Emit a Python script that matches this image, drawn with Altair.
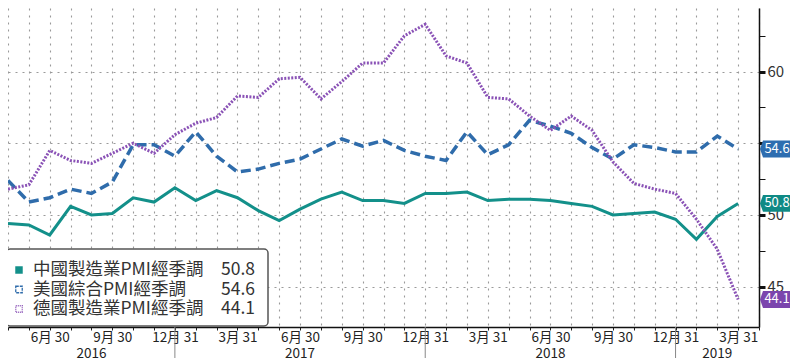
import altair as alt
import pandas as pd

FONT = "Noto Sans CJK TC"

# ---------------- data ----------------
months = [
    "2016-04", "2016-05", "2016-06", "2016-07", "2016-08", "2016-09", "2016-10", "2016-11", "2016-12",
    "2017-01", "2017-02", "2017-03", "2017-04", "2017-05", "2017-06", "2017-07", "2017-08", "2017-09",
    "2017-10", "2017-11", "2017-12",
    "2018-01", "2018-02", "2018-03", "2018-04", "2018-05", "2018-06", "2018-07", "2018-08", "2018-09",
    "2018-10", "2018-11", "2018-12",
    "2019-01", "2019-02", "2019-03",
]
china = [49.4, 49.3, 48.6, 50.6, 50.0, 50.1, 51.2, 50.9, 51.9,
         51.0, 51.7, 51.2, 50.3, 49.6, 50.4, 51.1, 51.6, 51.0, 51.0, 50.8, 51.5,
         51.5, 51.6, 51.0, 51.1, 51.1, 51.0, 50.8, 50.6, 50.0, 50.1, 50.2, 49.7,
         48.3, 49.9, 50.8]
us = [52.4, 50.9, 51.2, 51.8, 51.5, 52.3, 54.9, 54.9, 54.1,
      55.8, 54.1, 53.0, 53.2, 53.6, 53.9, 54.6, 55.3, 54.8, 55.2, 54.5, 54.1,
      53.8, 55.8, 54.2, 54.9, 56.6, 56.2, 55.7, 54.7, 53.9, 54.9, 54.7, 54.4,
      54.4, 55.5, 54.6]
germany = [51.8, 52.1, 54.5, 53.8, 53.6, 54.3, 55.0, 54.3, 55.6,
           56.4, 56.8, 58.3, 58.2, 59.5, 59.6, 58.1, 59.3, 60.6, 60.6, 62.5, 63.3,
           61.1, 60.6, 58.2, 58.1, 56.9, 55.9, 56.9, 55.9, 53.7, 52.2, 51.8, 51.5,
           49.7, 47.6, 44.1]

series_names = ["中國製造業PMI經季調", "美國綜合PMI經季調", "德國製造業PMI經季調"]
line_colors = ["#13908a", "#2f6cab", "#8a52b6"]
tag_colors = ["#0f8a85", "#2d6db0", "#7b45ad"]

tick_index = [2, 5, 8, 11, 14, 17, 20, 23, 26, 29, 32, 35]
tick_text = ["6月 30", "9月 30", "12月 31", "3月 31", "6月 30", "9月 30", "12月 31",
             "3月 31", "6月 30", "9月 30", "12月 31", "3月 31"]
years = ["2016", "2017", "2018", "2019"]
year_mid = [4, 14, 26, 34]
year_breaks = [8, 20, 32]

y_ticks = [45, 47.5, 50, 52.5, 55, 57.5, 60, 62.5]
y_labelled = [45, 50, 60]   # 55 sits hidden under the last-value tag

# ---------------- tables ----------------
wide = pd.DataFrame({"i": list(range(len(months))), "month": months,
                     series_names[0]: china, series_names[1]: us, series_names[2]: germany})
long = wide.melt(id_vars=["i", "month"], value_vars=series_names,
                 var_name="series", value_name="value")
last_vals = [china[-1], us[-1], germany[-1]]
tags = pd.DataFrame({"series": series_names, "value": last_vals,
                     "label": [f"{v:.1f}" for v in last_vals]})
year_df = pd.DataFrame({"i": year_mid, "year": years})
break_df = pd.DataFrame({"i": year_breaks})
one = pd.DataFrame({"a": [0]})

W, H = 751, 319
GRID = "#9a9a9a"

ti = ",".join(str(v) for v in tick_index)
tt = ",".join(f"'{t}'" for t in tick_text)
x_label_expr = f"indexof([{ti}], datum.value) >= 0 ? [{tt}][indexof([{ti}], datum.value)] : ''"
yl = ",".join(str(v) for v in y_labelled)
y_label_expr = f"indexof([{yl}], datum.value) >= 0 ? datum.label : ''"

X = alt.X("i:Q",
          scale=alt.Scale(domain=[0, 36], nice=False, zero=False),
          axis=alt.Axis(values=list(range(37)), labelExpr=x_label_expr, title=None,
                        grid=True, gridColor=GRID, gridDash=[2, 5], gridWidth=1.1,
                        ticks=True, tickSize=3, tickColor="#222", tickWidth=1,
                        domainColor="#111", domainWidth=1.5,
                        labelFont=FONT, labelFontSize=13.5, labelColor="#222",
                        labelPadding=0, labelOverlap=False, labelFlush=False,
                        labelBound=False))

Y = alt.Y("value:Q",
          scale=alt.Scale(domain=[42.18, 64.44], nice=False, zero=False),
          axis=alt.Axis(orient="right", values=y_ticks, title=None,
                        labelExpr=y_label_expr,
                        grid=True, gridColor=GRID, gridDash=[2, 5], gridWidth=1.1,
                        gridOpacity={"condition": {"test": "datum.value % 5 != 0", "value": 0},
                                     "value": 1},
                        tickSize=6, tickColor="#111",
                        tickWidth={"condition": {"test": "datum.value % 5 == 0", "value": 3},
                                   "value": 1},
                        domainColor="#111", domainWidth=1.5,
                        labelFont=FONT, labelFontSize=15, labelColor="#333",
                        labelPadding=2, labelOverlap=False, labelFlush=False))

base = alt.Chart(long)

china_line = base.transform_filter(alt.datum.series == series_names[0]).mark_line(
    color=line_colors[0], strokeWidth=3).encode(x=X, y=Y)
us_line = base.transform_filter(alt.datum.series == series_names[1]).mark_line(
    color=line_colors[1], strokeWidth=3.5, strokeDash=[10, 5]).encode(x=X, y=Y)
de_line = base.transform_filter(alt.datum.series == series_names[2]).mark_line(
    color=line_colors[2], strokeWidth=3, strokeDash=[2, 1.5]).encode(x=X, y=Y)

breaks = alt.Chart(break_df).mark_rule(color="#888", strokeWidth=1).encode(
    x=X, y=alt.value(H), y2=alt.value(350))
year_text = alt.Chart(year_df).mark_text(
    font=FONT, fontSize=13.5, color="#222", baseline="middle", align="center").encode(
    x=X, y=alt.value(345.5), text="year:N")

TAG = "M-1,0L-0.8,-0.56L1,-0.56L1,0.56L-0.8,0.56Z"
tag_shape = alt.Chart(tags).mark_point(shape=TAG, filled=True, size=900, opacity=1).encode(
    x=alt.value(767), y=Y,
    color=alt.Color("series:N", scale=alt.Scale(domain=series_names, range=tag_colors),
                    legend=None))
tag_text = alt.Chart(tags).mark_text(
    font=FONT, fontSize=13, color="white", align="center", baseline="middle").encode(
    x=alt.value(769), y=Y, text="label:N")

# ---------------- legend box ----------------
legend_box = alt.Chart(one).mark_rect(
    fill="white", stroke="#555", strokeWidth=1.5, cornerRadius=4).encode(
    x=alt.value(-2), x2=alt.value(260), y=alt.value(241), y2=alt.value(318))

row_y = [262, 281.5, 301]
legend_layers = [legend_box]
sym_styles = [
    dict(filled=True, color=line_colors[0], size=56),
    dict(filled=False, color=line_colors[1], size=42, strokeWidth=1.3, strokeDash=[3, 1]),
    dict(filled=False, color=line_colors[2], size=42, strokeWidth=1.3, strokeDash=[1, 1]),
]
for k in range(3):
    row = pd.DataFrame({"name": [series_names[k]], "val": [f"{last_vals[k]:.1f}"]})
    legend_layers.append(alt.Chart(row).mark_point(shape="square", opacity=1, **sym_styles[k]).encode(
        x=alt.value(11), y=alt.value(row_y[k])))
    legend_layers.append(alt.Chart(row).mark_text(
        font=FONT, fontSize=17.5, color="#333", align="left", baseline="middle").encode(
        x=alt.value(25), y=alt.value(row_y[k]), text="name:N"))
    legend_layers.append(alt.Chart(row).mark_text(
        font=FONT, fontSize=17.5, color="#333", align="right", baseline="middle").encode(
        x=alt.value(247), y=alt.value(row_y[k]), text="val:N"))

chart = alt.layer(
    china_line, us_line, de_line, breaks, year_text, tag_shape, tag_text, *legend_layers
).properties(
    width=W, height=H,
    autosize=alt.AutoSizeParams(type="none"),
    padding={"left": 0, "top": 0, "right": 32, "bottom": 34},
).configure_view(stroke=None)

chart.save("out.html", embed_options={"renderer": "svg", "actions": False})
